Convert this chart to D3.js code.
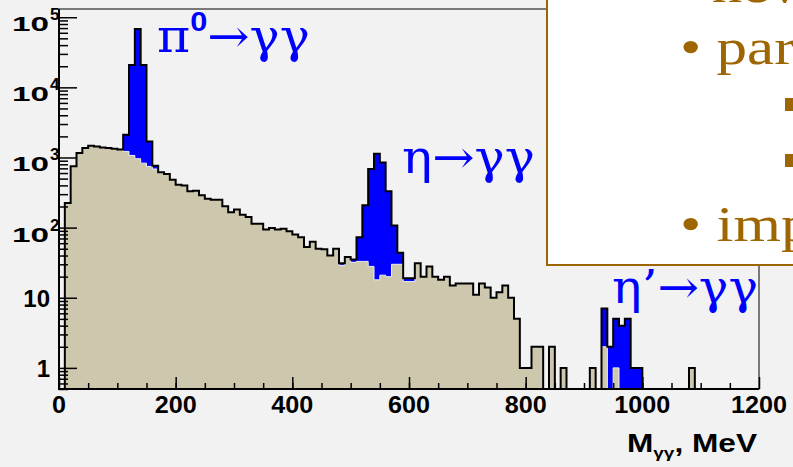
<!DOCTYPE html>
<html lang="en">
<head>
<meta charset="UTF-8">
<title>M_gg spectrum</title>
<script src="https://d3js.org/d3.v7.min.js"></script>
<style>
  body { margin: 0; background: #f2f2f2; }
  svg { display: block; }
  .num { font-family: "Liberation Sans", Arial, sans-serif; font-weight: bold; fill: #000; }
  .greek { font-family: "DejaVu Serif", "Liberation Serif", serif; fill: #0000ff; }
  .slide { font-family: "Liberation Serif", "Times New Roman", serif; fill: #9e6600; }
</style>
</head>
<body>
<svg id="chart" width="793" height="467"></svg>
<script>
// histogram, 10 MeV bins from 0 to 1200 MeV
const binWidth = 10;
const totalCounts = [
  0, 225, 750, 1160, 1365, 1470, 1440, 1390, 1365, 1330,
  1300, 2110, 20900, 68000, 20900, 1690, 764, 614, 582, 483,
  410, 400, 330, 335, 289, 259, 250, 250, 201, 165,
  181, 153, 142, 114, 114, 94, 99, 94, 96, 89,
  80, 73, 53, 63, 50, 49, 40, 50, 31, 38,
  35, 73, 208, 686, 1130, 851, 330, 107, 44, 19,
  19, 31, 20, 28, 20, 18, 20, 15, 16, 16,
  16, 11, 16, 14, 10, 12, 15, 10, 5, 1,
  1, 2, 2, 0, 2, 0, 1, 0, 0, 0,
  0, 1, 0, 7, 2, 5, 4, 5, 1, 1,
  0, 0, 0, 0, 0, 0, 0, 0, 1, 0,
  0, 0, 0, 0, 0, 0, 0, 0, 0, 0
];
const bgCounts = [
  0, 225, 750, 1160, 1365, 1470, 1440, 1390, 1365, 1330,
  1300, 1220, 1070, 960, 830, 746, 685, 614, 582, 483,
  410, 400, 330, 335, 289, 259, 250, 250, 201, 165,
  181, 153, 142, 114, 114, 94, 99, 94, 96, 89,
  80, 73, 53, 63, 50, 49, 40, 50, 29, 38,
  32, 33, 33, 28, 18, 21, 20, 30, 30, 17,
  17, 31, 20, 28, 20, 18, 20, 15, 16, 16,
  16, 11, 16, 14, 10, 12, 15, 10, 5, 1,
  1, 2, 2, 0, 2, 0, 1, 0, 0, 0,
  0, 1, 0, 2, 0, 1, 0, 0, 0, 0,
  0, 0, 0, 0, 0, 0, 0, 0, 1, 0,
  0, 0, 0, 0, 0, 0, 0, 0, 0, 0
];
const xMajorTicks = [0, 200, 400, 600, 800, 1000, 1200];
const yMajorTicks = [1, 10, 100, 1000, 10000, 100000];

const svg = d3.select("#chart");
const x = d3.scaleLinear().domain([0, 1200]).range([59, 759]);
const y = d3.scaleLog().domain([0.5, 1.31e5]).range([389, 9]);
const yv = v => v > 0 ? y(v) : y.range()[0];

function stepPoints(counts) {
  const pts = counts.map((c, i) => [i * binWidth, c]);
  pts.push([counts.length * binWidth, counts[counts.length - 1]]);
  return pts;
}

const area = d3.area()
  .x(d => x(d[0])).y0(y.range()[0]).y1(d => yv(d[1]))
  .curve(d3.curveStepAfter);
const line = d3.line()
  .x(d => x(d[0])).y(d => yv(d[1]))
  .curve(d3.curveStepAfter);

// frame
svg.append("rect").attr("x", 59).attr("y", 9).attr("width", 700).attr("height", 380)
  .attr("fill", "#f2f2f2").attr("stroke", "#000").attr("stroke-width", 1);

// signal + background (blue), then background (tan), then outline
svg.append("path").datum(stepPoints(totalCounts)).attr("d", area).attr("fill", "#0000ff");
svg.append("path").datum(stepPoints(bgCounts)).attr("d", area)
  .attr("fill", "#cdc7ad").attr("stroke", "#eeeeee").attr("stroke-width", 1);
svg.append("path").datum(stepPoints(totalCounts)).attr("d", line)
  .attr("fill", "none").attr("stroke", "#000").attr("stroke-width", 2);

// y axis ticks (inside)
const yMinor = [];
[0.1, 1, 10, 100, 1000, 10000].forEach(d => {
  for (let k = 2; k <= 9; k++) {
    const v = d * k;
    if (v >= 0.5 && v <= 1.31e5) yMinor.push(v);
  }
});
svg.append("g").attr("transform", "translate(59,0)")
  .call(d3.axisRight(y).tickValues(yMinor).tickSize(9).tickFormat(""))
  .call(g => g.select(".domain").remove());
svg.append("g").attr("transform", "translate(59,0)")
  .call(d3.axisRight(y).tickValues(yMajorTicks).tickSize(18).tickFormat(""))
  .call(g => g.select(".domain").remove());

// x axis ticks (inside)
svg.append("g").attr("transform", "translate(0,389)")
  .call(d3.axisTop(x).tickValues(d3.range(50, 1200, 50)).tickSize(6).tickFormat(""))
  .call(g => g.select(".domain").remove());
svg.append("g").attr("transform", "translate(0,389)")
  .call(d3.axisTop(x).tickValues(xMajorTicks).tickSize(12).tickFormat(""))
  .call(g => g.select(".domain").remove());
svg.selectAll(".tick line").attr("stroke", "#000").attr("stroke-width", 1.5);

// axis lines
svg.append("line").attr("x1", 59).attr("x2", 59).attr("y1", 9).attr("y2", 390)
  .attr("stroke", "#000").attr("stroke-width", 2);
svg.append("line").attr("x1", 58).attr("x2", 759).attr("y1", 389).attr("y2", 389)
  .attr("stroke", "#000").attr("stroke-width", 2);

// x tick labels
svg.selectAll(".xlab").data(xMajorTicks).join("text")
  .attr("class", "num").attr("x", d => x(d)).attr("y", 413)
  .attr("text-anchor", "middle").attr("font-size", 24)
  .attr("textLength", d => String(d).length * 14).attr("lengthAdjust", "spacingAndGlyphs")
  .text(d => d);

// y tick labels
yMajorTicks.forEach(v => {
  const p = Math.round(Math.log10(v));
  const ty = y(v);
  if (p <= 1) {
    svg.append("text").attr("class", "num").attr("x", 50).attr("y", ty + 9)
      .attr("text-anchor", "end").attr("font-size", 24).text(v);
  } else {
    svg.append("text").attr("class", "num").attr("x", 12).attr("y", ty + 14)
      .attr("font-size", 20).attr("textLength", 37).attr("lengthAdjust", "spacingAndGlyphs")
      .text("10");
    svg.append("text").attr("class", "num").attr("x", 50).attr("y", ty + 3)
      .attr("font-size", 17).text(p);
  }
});

// axis title
const xt = svg.append("text").attr("class", "num").attr("x", 627).attr("y", 452)
  .attr("font-size", 25).attr("textLength", 130).attr("lengthAdjust", "spacingAndGlyphs");
xt.append("tspan").text("M");
xt.append("tspan").attr("font-size", 15).attr("dy", 6).text("γγ");
xt.append("tspan").attr("dy", -6).text(", MeV");

// peak labels
function peakLabel(px, py, len, parts) {
  const t = svg.append("text").attr("class", "greek").attr("x", px).attr("y", py)
    .attr("font-size", 46).attr("textLength", len).attr("lengthAdjust", "spacingAndGlyphs");
  parts.forEach(p => {
    const s = t.append("tspan").text(p.t);
    if (p.dy) s.attr("dy", p.dy);
    if (p.sup) s.attr("font-family", "Liberation Sans, Arial, sans-serif")
      .attr("font-weight", "bold").attr("font-size", 28);
  });
}
peakLabel(157, 52, 153, [{t: "π"}, {t: "0", dy: -21, sup: true}, {t: "→γγ", dy: 21}]);
peakLabel(402, 173, 133, [{t: "η→γγ"}]);
peakLabel(612, 303, 146, [{t: "η’→γγ"}]);

// overlapping slide box
svg.append("rect").attr("x", 547).attr("y", -10).attr("width", 260).attr("height", 275)
  .attr("fill", "#ffffff").attr("stroke", "#9e6600").attr("stroke-width", 2);
const slide = svg.append("g").attr("transform", "translate(680,0) scale(1.22,1)");
slide.append("text").attr("class", "slide").attr("x", 26).attr("y", 2)
  .attr("font-size", 50).text("nev");
slide.append("text").attr("class", "slide").attr("x", 0).attr("y", 64)
  .attr("font-size", 50).text("• par");
slide.append("text").attr("class", "slide").attr("x", 0).attr("y", 241)
  .attr("font-size", 50).text("• imp");
[98, 154].forEach(by => {
  svg.append("rect").attr("x", 785).attr("y", by).attr("width", 14).attr("height", 13)
    .attr("fill", "#9e6600");
});
</script>
</body>
</html>
